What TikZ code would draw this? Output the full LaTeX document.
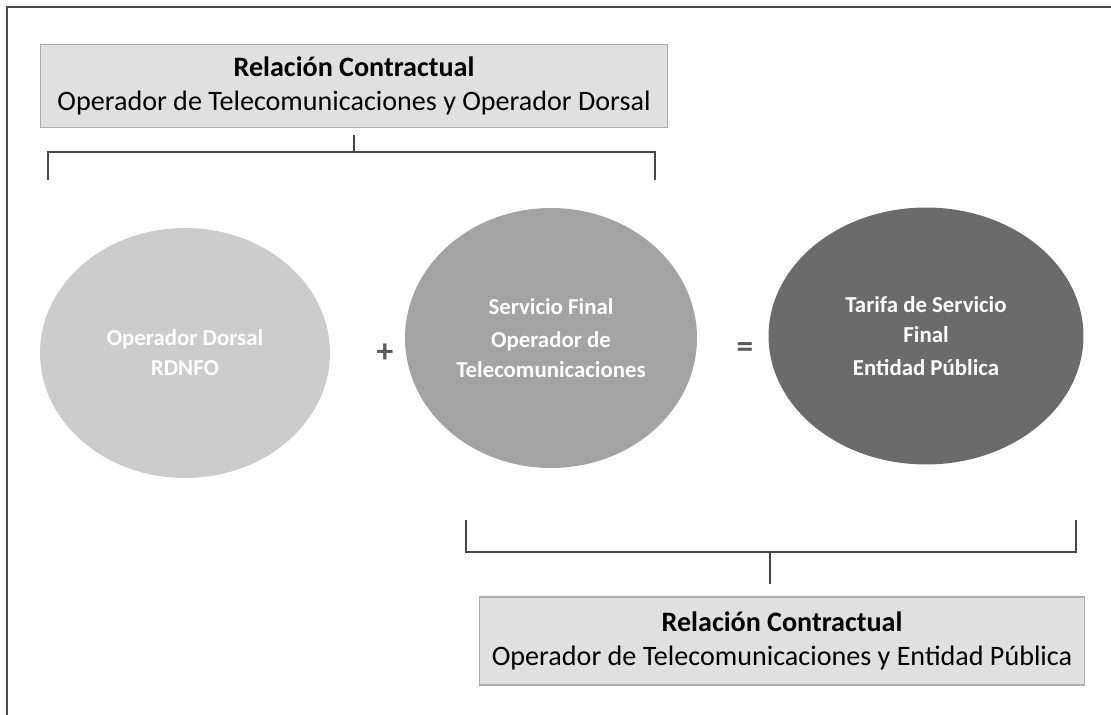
\documentclass[tikz,border=0pt]{standalone}
\usepackage{fontspec}
\setmainfont{Carlito}
\usetikzlibrary{positioning,shapes.geometric}

\begin{document}
\begin{tikzpicture}[x=0.02cm,y=-0.02cm,font=\fontsize{16}{19}\selectfont,
  relbox/.style={draw=gray!65,line width=0.6pt,fill=black!12,align=center,inner sep=0pt},
  disc/.style={ellipse,draw=none,inner sep=0pt,align=center,text=white,
    font=\fontsize{13}{17}\selectfont\bfseries},
  bracket/.style={draw=gray!55!black,line width=0.7pt},
  sign/.style={text=black!65,font=\fontsize{19}{19}\selectfont\bfseries}]
  \useasboundingbox (0,0) rectangle (1111,715);
  \draw[gray!60!black,line width=0.8pt] (7,715) -- (7,7) -- (1111,7);

  \node[relbox,minimum width=12.56cm,minimum height=1.66cm] (topbox) at (354,86)
    {\textbf{Relación Contractual}\\Operador de Telecomunicaciones y Operador Dorsal};
  \node[relbox,minimum width=12.1cm,minimum height=1.76cm] (botbox) at (782,641)
    {\textbf{Relación Contractual}\\Operador de Telecomunicaciones y Entidad Pública};

  \node[disc,fill=black!20,minimum width=5.8cm,minimum height=5cm] (dorsal) at (185,353)
    {Operador Dorsal\\RDNFO};
  \node[disc,fill=black!36,minimum width=5.84cm,minimum height=5.2cm] (servicio) at (551,338)
    {Servicio Final\\[2pt]Operador de\\Telecomunicaciones};
  \node[disc,fill=black!58,minimum width=6.3cm,minimum height=5.14cm] (tarifa) at (926,336)
    {Tarifa de Servicio\\Final\\[2pt]Entidad Pública};

  \node[sign] (mas) at (385,353) {+};
  \node[sign] (igual) at (745,350) {=};

  \coordinate (tb) at (354,152);
  \draw[bracket] (48,180) -- (48,152) -- (655,152) -- (655,180);
  \draw[bracket,shorten >=0.14cm] (tb) -- (tb |- topbox.south);

  \coordinate (bb) at (770,552);
  \draw[bracket] (466,520) -- (466,552) -- (1076,552) -- (1076,520);
  \draw[bracket,shorten >=0.24cm] (bb) -- (bb |- botbox.north);
\end{tikzpicture}
\end{document}
